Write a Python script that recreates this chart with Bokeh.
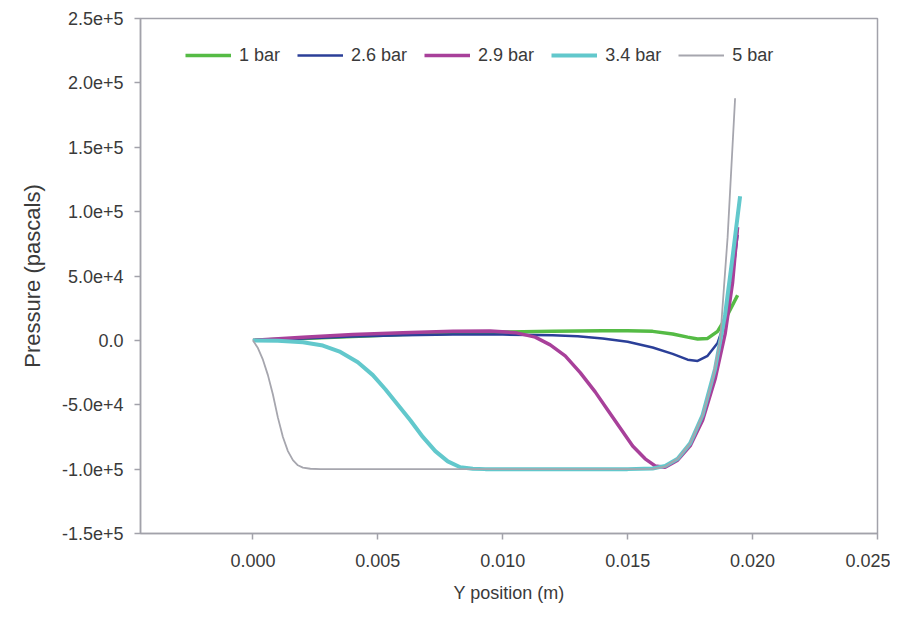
from bokeh.plotting import figure
from bokeh.models import FixedTicker, Range1d, Legend, LegendItem, NumeralTickFormatter
from bokeh.embed import file_html
from bokeh.resources import INLINE

# ---- data ----
x_1bar = [0, 0.002, 0.004, 0.006, 0.008, 0.010, 0.012, 0.014, 0.015, 0.016, 0.0168, 0.0174, 0.0178, 0.0182, 0.0186, 0.0190, 0.0194]
y_1bar = [0, 1500, 3000, 4500, 5500, 6500, 7000, 7500, 7500, 7000, 5000, 2500, 1000, 1500, 7000, 20000, 35000]

x_26bar = [0, 0.002, 0.004, 0.006, 0.008, 0.010, 0.012, 0.013, 0.014, 0.015, 0.016, 0.0168, 0.0174, 0.0178, 0.0182, 0.0186, 0.0189, 0.0192, 0.0194]
y_26bar = [0, 1500, 3000, 4000, 4500, 4500, 4000, 3200, 1500, -1000, -5500, -10500, -15000, -16000, -12000, -2000, 15000, 50000, 82000]

x_29bar = [0, 0.002, 0.004, 0.006, 0.008, 0.0095, 0.0105, 0.0113, 0.0119, 0.0125, 0.0131, 0.0137, 0.0142, 0.0147, 0.0152, 0.0157, 0.0161, 0.0165, 0.0170, 0.0175, 0.0180, 0.0185, 0.0189, 0.0192, 0.0194]
y_29bar = [0, 2500, 4500, 6000, 7000, 7200, 6000, 2500, -3500, -12000, -25000, -40000, -54000, -68000, -82000, -92000, -97500, -98500, -93000, -82000, -62000, -30000, 5000, 45000, 88000]

x_34bar = [0, 0.001, 0.002, 0.0028, 0.0035, 0.0042, 0.0048, 0.0053, 0.0058, 0.0063, 0.0068, 0.0073, 0.0078, 0.0083, 0.0088, 0.0093, 0.012, 0.015, 0.016, 0.0165, 0.0170, 0.0175, 0.0180, 0.0185, 0.0189, 0.0192, 0.0195]
y_34bar = [0, -300, -1500, -4000, -9000, -17000, -27000, -38000, -50000, -62000, -75000, -86000, -94000, -98500, -99700, -100000, -100000, -100000, -99500, -97500, -92000, -80000, -58000, -22000, 20000, 65000, 112000]

x_5bar = [0, 0.0002, 0.0004, 0.0006, 0.0008, 0.0010, 0.0012, 0.0014, 0.0016, 0.0018, 0.0020, 0.0023, 0.0027, 0.005, 0.010, 0.015, 0.0160, 0.0165, 0.0170, 0.0175, 0.0180, 0.0184, 0.0187, 0.0190, 0.0193]
y_5bar = [0, -6000, -15000, -27000, -42000, -60000, -75000, -86000, -93000, -97000, -98800, -99700, -100000, -100000, -100000, -100000, -99800, -98000, -92000, -80000, -58000, -30000, 0, 80000, 188000]

series_labels = ["1 bar", "2.6 bar", "2.9 bar", "3.4 bar", "5 bar"]
x_ticks = [0.0, 0.005, 0.010, 0.015, 0.020, 0.025]
y_ticks = [-150000, -100000, -50000, 0, 50000, 100000, 150000, 200000, 250000]
y_tick_labels = ["-1.5e+5", "-1.0e+5", "-5.0e+4", "0.0", "5.0e+4", "1.0e+5", "1.5e+5", "2.0e+5", "2.5e+5"]

FONT = "Liberation Sans"
TXT = "#3a3a3a"
AX = "#a2a2aa"

p = figure(width=890, height=605, output_backend="svg", toolbar_location=None,
           x_range=Range1d(-0.0045, 0.025), y_range=Range1d(-150000, 250000),
           min_border_left=140, min_border_right=13, min_border_top=18, min_border_bottom=72)
p.grid.visible = False
p.outline_line_color = AX
p.outline_line_width = 1.5
p.background_fill_color = "white"
p.border_fill_color = "white"

p.xaxis.ticker = FixedTicker(ticks=x_ticks)
p.xaxis.formatter = NumeralTickFormatter(format="0.000")
p.yaxis.ticker = FixedTicker(ticks=y_ticks)
p.yaxis.major_label_overrides = {t: l for t, l in zip(y_ticks, y_tick_labels)}

for ax in (p.xaxis, p.yaxis):
    ax.axis_line_color = AX
    ax.axis_line_width = 1.5
    ax.major_tick_line_color = AX
    ax.major_tick_line_width = 1.5
    ax.major_tick_out = 6
    ax.major_tick_in = 0
    ax.minor_tick_line_color = None
    ax.major_label_text_font = FONT
    ax.major_label_text_font_size = "18px"
    ax.major_label_text_color = TXT
    ax.axis_label_text_font = FONT
    ax.axis_label_text_font_style = "normal"
    ax.axis_label_text_color = TXT

p.xaxis.axis_label = "Y position (m)"
p.yaxis.axis_label = "Pressure (pascals)"
p.xaxis.axis_label_text_font_size = "18px"
p.yaxis.axis_label_text_font_size = "22px"
p.xaxis.axis_label_text_line_height = 0.6
p.xaxis.major_label_standoff = 14
p.xaxis.axis_label_standoff = 13
p.yaxis.major_label_standoff = 11
p.yaxis.axis_label_standoff = 14

r1 = p.line(x_1bar, y_1bar, line_color="#55bb45", line_width=3.5)
r2 = p.line(x_26bar, y_26bar, line_color="#2b3f98", line_width=2.5)
r3 = p.line(x_29bar, y_29bar, line_color="#a8409a", line_width=3.5)
r4 = p.line(x_34bar, y_34bar, line_color="#62c8cc", line_width=4)
r5 = p.line(x_5bar, y_5bar, line_color="#a6a6ae", line_width=1.8)

legend = Legend(items=[LegendItem(label=l, renderers=[r]) for l, r in zip(series_labels, [r1, r2, r3, r4, r5])],
                orientation="horizontal", location=(45, 467))
legend.border_line_color = None
legend.background_fill_alpha = 0
legend.padding = 0
legend.spacing = 17
legend.glyph_width = 46
legend.glyph_height = 22
legend.label_standoff = 8
legend.label_text_font = FONT
legend.label_text_font_size = "18px"
legend.label_text_color = TXT
p.add_layout(legend, "center")

open("out.html", "w").write(file_html(p, INLINE))
